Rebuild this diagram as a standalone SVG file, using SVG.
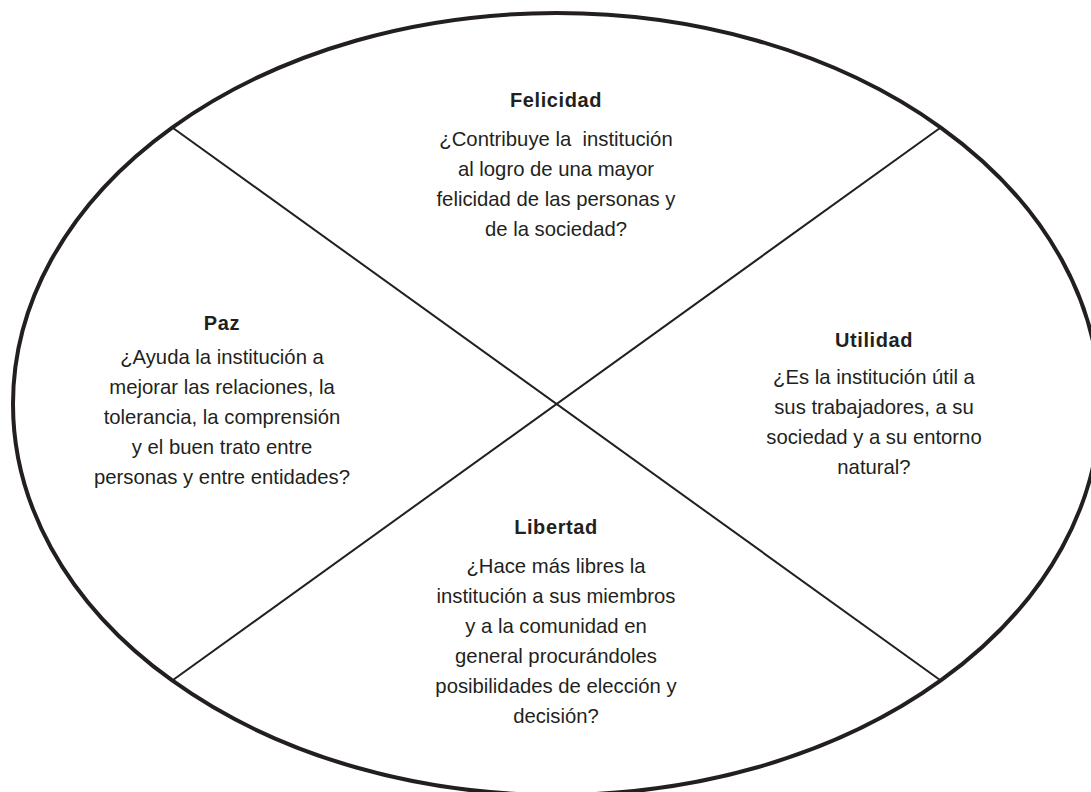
<svg xmlns="http://www.w3.org/2000/svg" width="1091" height="792" viewBox="0 0 1091 792">
<style>
.bg{fill:#ffffff}
.outline{fill:none;stroke:#231f20;stroke-width:4}
.div{stroke:#231f20;stroke-width:2;fill:none}
text{font-family:"Liberation Sans",Arial,sans-serif;fill:#231f20;text-anchor:middle}
.t{font-size:20px;font-weight:bold;letter-spacing:0.6px}
.b{font-size:20.3px}
</style>
<rect class="bg" x="0" y="0" width="1091" height="792"/>
<ellipse class="outline" cx="556.5" cy="404" rx="543.5" ry="391"/>
<g id="connectors">
<line class="div" x1="173" y1="128" x2="940" y2="680"/>
<line class="div" x1="940" y1="128" x2="173" y2="680"/>
</g>
<g id="felicidad">
<text class="t" x="556" y="107">Felicidad</text>
<text class="b" x="556" y="146" xml:space="preserve">¿Contribuye la  institución</text>
<text class="b" x="556" y="176">al logro de una mayor</text>
<text class="b" x="556" y="206">felicidad de las personas y</text>
<text class="b" x="556" y="236">de la sociedad?</text>
</g>
<g id="paz">
<text class="t" x="222" y="330">Paz</text>
<text class="b" x="222" y="364">¿Ayuda la institución a</text>
<text class="b" x="222" y="394">mejorar las relaciones, la</text>
<text class="b" x="222" y="424">tolerancia, la comprensión</text>
<text class="b" x="222" y="454">y el buen trato entre</text>
<text class="b" x="222" y="484">personas y entre entidades?</text>
</g>
<g id="utilidad">
<text class="t" x="874" y="347">Utilidad</text>
<text class="b" x="874" y="384">¿Es la institución útil a</text>
<text class="b" x="874" y="414">sus trabajadores, a su</text>
<text class="b" x="874" y="444">sociedad y a su entorno</text>
<text class="b" x="874" y="474">natural?</text>
</g>
<g id="libertad">
<text class="t" x="556" y="534">Libertad</text>
<text class="b" x="556" y="573">¿Hace más libres la</text>
<text class="b" x="556" y="603">institución a sus miembros</text>
<text class="b" x="556" y="633">y a la comunidad en</text>
<text class="b" x="556" y="663">general procurándoles</text>
<text class="b" x="556" y="693">posibilidades de elección y</text>
<text class="b" x="556" y="723">decisión?</text>
</g>
</svg>
